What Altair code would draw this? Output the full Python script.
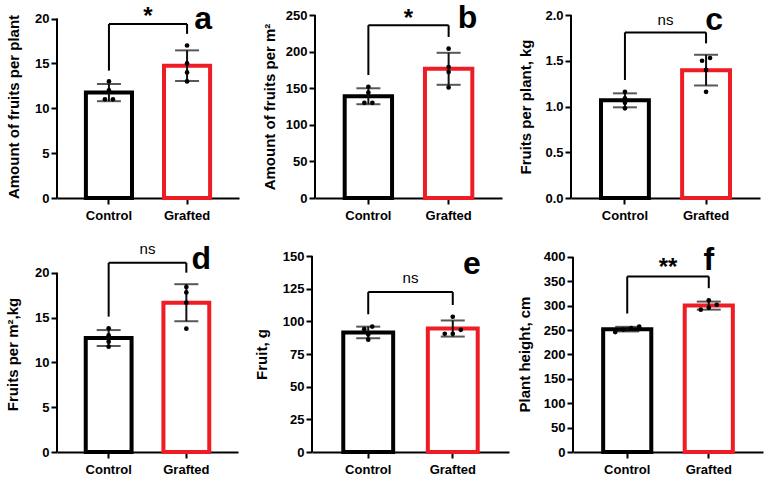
import altair as alt
import pandas as pd

groups = ["Control", "Grafted"]

# raw replicate values
fruits_per_plant_control = [13, 12, 11, 11]
fruits_per_plant_grafted = [17, 15, 14, 13]
fruits_per_m2_control = [152, 144, 130, 130]
fruits_per_m2_grafted = [204, 179, 172, 151]
kg_per_plant_control = [1.16, 1.09, 1.04, 0.98]
kg_per_plant_grafted = [1.53, 1.50, 1.40, 1.16]
kg_per_m2_control = [13.8, 13.0, 12.3, 11.75]
kg_per_m2_grafted = [18.4, 17.8, 16.65, 13.75]
fruit_g_control = [96, 94, 90, 86]
fruit_g_grafted = [103.5, 93.5, 90.5, 90.5]
height_cm_control = [257, 254, 251, 246]
height_cm_grafted = [311, 302, 296, 292]

y_titles = ["Amount of fruits per plant", "Amount of fruits per m²", "Fruits per plant, kg",
            "Fruits per m²,kg", "Fruit, g", "Plant height, cm"]
y_ticks = [[0, 5, 10, 15, 20], [0, 50, 100, 150, 200, 250], [0, 0.5, 1.0, 1.5, 2.0],
           [0, 5, 10, 15, 20], [0, 25, 50, 75, 100, 125, 150],
           [0, 50, 100, 150, 200, 250, 300, 350, 400]]
y_formats = ["d", "d", ".1f", "d", "d", "d"]
sig_labels = ["*", "*", "ns", "ns", "ns", "**"]
panel_letters = ["a", "b", "c", "d", "e", "f"]

# annotation levels (data units): bracket line, left leg end, right leg end, label, letter
bracket_level = [19.4, 236, 1.81, 21.1, 122.4, 360]
leg_left_end = [14.2, 168, 1.29, 15.1, 105.4, 284]
leg_right_end = [18.3, 220, 1.69, 20.0, 112.5, 336]
sig_label_level = [20.7, 251, 1.95, 22.6, 132.9, 388]
letter_level = [20.0, 246, 1.95, 21.5, 143.6, 394.5]

# layout per panel
widths = [182, 187, 189, 181, 197, 190]
heights = [183, 183, 183, 196, 196, 196]
y_max = [20.4, 250, 2.0, 21.86, 150, 402]
title_pad = [13, 8, 11, 14, 13, 11]
letter_dx = [16, 19, 8, 15, 19, 0]
sig_size = [24, 24, 15, 15, 15, 24]

FONT = "Liberation Sans"
BLACK = "#000000"
RED = "#ee1c25"
P_IN, P_OUT = 0.41, 0.37


def cluster_offsets(vals, span, thr=0.021):
    order = sorted(range(len(vals)), key=lambda i: vals[i])
    clusters, cur = [], [order[0]]
    for i in order[1:]:
        if vals[i] - vals[cur[-1]] <= thr * span:
            cur.append(i)
        else:
            clusters.append(cur)
            cur = [i]
    clusters.append(cur)
    off = [0.0] * len(vals)
    for c in clusters:
        k = len(c)
        for j, idx in enumerate(c):
            off[idx] = j - (k - 1) / 2
    return off


def make_panel(i, ctrl, graft):
    span = y_max[i]
    df = pd.DataFrame({
        "group": ["Control"] * len(ctrl) + ["Grafted"] * len(graft),
        "value": ctrl + graft,
        "off": cluster_offsets(ctrl, span) + cluster_offsets(graft, span),
    })
    xs = alt.Scale(domain=groups, paddingInner=P_IN, paddingOuter=P_OUT)
    ys = alt.Scale(domain=[0, y_max[i]], nice=False, zero=True)
    step = widths[i] / (2 - P_IN + 2 * P_OUT)
    xaxis = alt.Axis(labelAngle=0, tickSize=6, labelPadding=5, domain=True)
    yaxis = alt.Axis(values=y_ticks[i], format=y_formats[i], domain=False,
                     labelOverlap=False, titlePadding=title_pad[i])

    def X(field="group:N"):
        return alt.X(field, scale=xs, sort=groups, title=None, axis=xaxis)

    def Y(field):
        return alt.Y(field, scale=ys, title=y_titles[i], axis=yaxis)

    bars = alt.Chart(df).mark_bar(fill="white", strokeWidth=4).encode(
        x=X(), y=Y("mean(value):Q"),
        stroke=alt.Stroke("group:N", scale=alt.Scale(domain=groups, range=[BLACK, RED]),
                          legend=None),
    )
    axis_df = pd.DataFrame({"group": ["Control"], "y0": [0], "y1": [y_ticks[i][-1]]})
    yaxis_line = alt.Chart(axis_df).mark_rule(strokeWidth=2, color=BLACK).encode(
        x=alt.value(0), y=Y("y0:Q"), y2="y1:Q")

    err = alt.Chart(df).transform_aggregate(
        m="mean(value)", s="stdev(value)", groupby=["group"]
    ).transform_calculate(lo="datum.m - datum.s", hi="datum.m + datum.s")
    err_rule = err.mark_rule(strokeWidth=2, color="#111").encode(
        x=X(), y=Y("lo:Q"), y2="hi:Q")
    err_lo = err.mark_tick(size=24, thickness=2, color="#111").encode(x=X(), y=Y("lo:Q"))
    err_hi = err.mark_tick(size=24, thickness=2, color="#111").encode(x=X(), y=Y("hi:Q"))

    pts = []
    for k in sorted(set(df["off"])):
        pts.append(alt.Chart(df).transform_filter(f"datum.off == {k}").mark_circle(
            size=22, color=BLACK, opacity=1, xOffset=k * 8).encode(
            x=X(), y=Y("value:Q")))

    br_df = pd.DataFrame({"group": ["Control"], "group2": ["Grafted"],
                          "y": [bracket_level[i]]})
    br = alt.Chart(br_df).mark_rule(strokeWidth=2, color=BLACK).encode(
        x=X(), x2="group2:N", y=Y("y:Q"))
    legs_df = pd.DataFrame({"group": groups, "y": [bracket_level[i]] * 2,
                            "yend": [leg_left_end[i], leg_right_end[i]]})
    legs = alt.Chart(legs_df).mark_rule(strokeWidth=2, color=BLACK).encode(
        x=X(), y=Y("y:Q"), y2="yend:Q")

    is_star = "*" in sig_labels[i]
    sig_df = pd.DataFrame({"group": ["Control"], "y": [sig_label_level[i]],
                           "t": [sig_labels[i]]})
    sig = alt.Chart(sig_df).mark_text(
        font=FONT, fontSize=sig_size[i],
        fontWeight="bold" if is_star else "normal", color=BLACK, align="center",
        baseline="middle", xOffset=step / 2, yOffset=5 if is_star else 0).encode(
        x=X(), y=Y("y:Q"), text="t:N")
    let_df = pd.DataFrame({"group": ["Grafted"], "y": [letter_level[i]],
                           "t": [panel_letters[i]]})
    letter = alt.Chart(let_df).mark_text(
        font=FONT, fontSize=32, fontWeight="bold", color=BLACK,
        align="center", baseline="middle", xOffset=letter_dx[i]).encode(
        x=X(), y=Y("y:Q"), text="t:N")

    return alt.layer(bars, yaxis_line, err_rule, err_lo, err_hi, *pts, br, legs,
                     sig, letter).properties(width=widths[i], height=heights[i])


series = [
    (fruits_per_plant_control, fruits_per_plant_grafted),
    (fruits_per_m2_control, fruits_per_m2_grafted),
    (kg_per_plant_control, kg_per_plant_grafted),
    (kg_per_m2_control, kg_per_m2_grafted),
    (fruit_g_control, fruit_g_grafted),
    (height_cm_control, height_cm_grafted),
]
panels = [make_panel(i, c, g) for i, (c, g) in enumerate(series)]

row1 = alt.hconcat(alt.hconcat(panels[0], panels[1], spacing=23), panels[2], spacing=16)
row2 = alt.hconcat(alt.hconcat(panels[3], panels[4], spacing=16), panels[5], spacing=8)

chart = alt.vconcat(row1, row2, spacing=20).properties(
    padding={"left": 5, "top": 1, "right": 5, "bottom": 5}, background="white"
).configure_view(stroke=None).configure_axis(
    labelFont=FONT, labelFontWeight="bold", labelFontSize=13, labelColor=BLACK,
    titleFont=FONT, titleFontWeight="bold", titleFontSize=15, titleColor=BLACK,
    tickColor=BLACK, tickWidth=2, tickSize=6, domainColor=BLACK, domainWidth=2,
    grid=False, labelPadding=2,
)

chart.save("out.html", embed_options={"renderer": "svg", "actions": False})
